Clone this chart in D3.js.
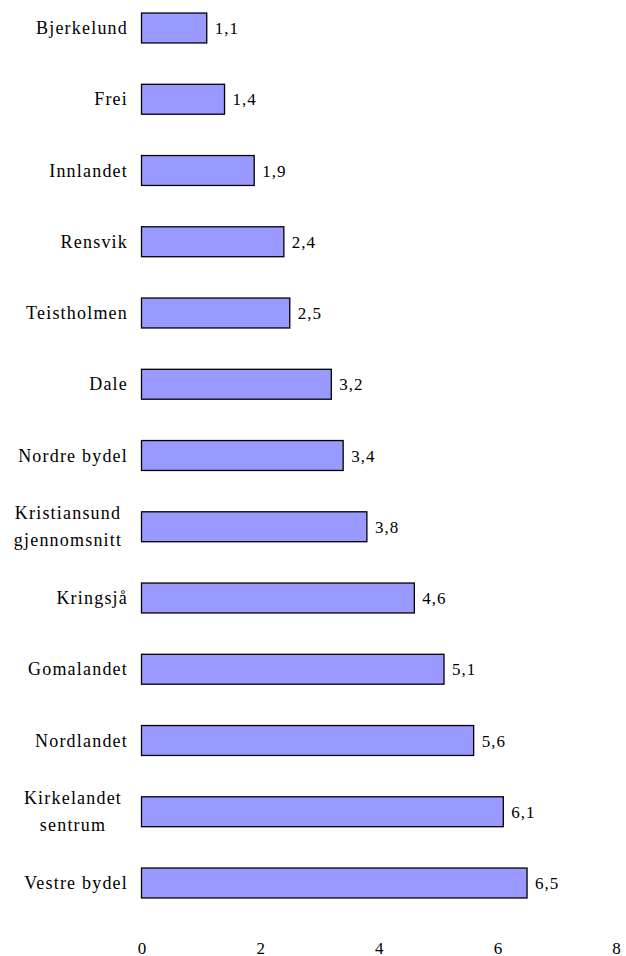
<!DOCTYPE html>
<html>
<head>
<meta charset="utf-8">
<script src="https://cdn.jsdelivr.net/npm/d3@7"></script>
</head>
<body style="margin:0">
<svg id="chart" width="626" height="956"></svg>
<script>
// category names (multi-line ones split with \n) and their values
var categories = ["Bjerkelund", "Frei", "Innlandet", "Rensvik", "Teistholmen", "Dale", "Nordre bydel",
  "Kristiansund\ngjennomsnitt", "Kringsjå", "Gomalandet", "Nordlandet", "Kirkelandet\nsentrum", "Vestre bydel"]
var values = [1.1, 1.4, 1.9, 2.4, 2.5, 3.2, 3.4, 3.8, 4.6, 5.1, 5.6, 6.1, 6.5]
var xTicks = [0, 2, 4, 6, 8]

const FONT = "'Liberation Serif', serif"

var svg = d3.select("#chart")

var x = d3.scaleLinear().domain([0, 8]).range([141.5, 616])

// band scale: centers from 28 to 883, bar height ~30
var y = d3.scaleBand()
  .domain(categories)
  .range([28 - 71.25 / 2, 883 + 71.25 / 2])
  .paddingInner(0.58).paddingOuter(0.29)

svg.selectAll("rect.bar")
  .data(values)
  .enter().append("rect")
  .attr("class", "bar")
  .attr("x", x(0))
  .attr("y", (d, i) => y(categories[i]))
  .attr("width", d => x(d) - x(0))
  .attr("height", y.bandwidth())
  .attr("fill", "#9999ff")
  .attr("stroke", "#000")
  .attr("stroke-width", 1.3)

// value labels
svg.selectAll("text.val")
  .data(values)
  .enter().append("text")
  .attr("class", "val")
  .attr("font-family", FONT)
  .attr("font-size", 17)
  .attr("letter-spacing", 1)
  .attr("x", d => x(d) + 8)
  .attr("y", (d, i) => y(categories[i]) + y.bandwidth() / 2 + 6)
  .text(d => d.toFixed(1).replace(".", ","))

// category labels; multi-line ones are centered under each other
var labelRight = 128
categories.forEach(function(c) {
  var lines = c.split("\n")
  var cy = y(c) + y.bandwidth() / 2
  var t = svg.append("text")
    .attr("font-family", FONT)
    .attr("font-size", 18)
    .attr("letter-spacing", 1.2)
  var longest = d3.max(lines, l => l.length)
  var cx = lines.length == 1 ? labelRight : labelRight - longest * 10 / 2
  t.attr("text-anchor", lines.length == 1 ? "end" : "middle")
  lines.forEach(function(l, k) {
    t.append("tspan").text(l)
      .attr("x", cx)
      .attr("y", cy + (k - (lines.length - 1) / 2) * 27 + 6)
  })
})

// bottom axis: tick labels only
var xAxis = svg.append("g")
  .attr("transform", "translate(0,948)")
  .call(d3.axisBottom(x).tickValues(xTicks).tickSize(0).tickPadding(0))
xAxis.attr("font-family", FONT).attr("font-size", 17)
xAxis.select(".domain").remove()
xAxis.selectAll("text")
  .attr("dy", "0.35em")
  .attr("font-family", FONT)
  .attr("fill", "#000")
</script>
</body>
</html>
